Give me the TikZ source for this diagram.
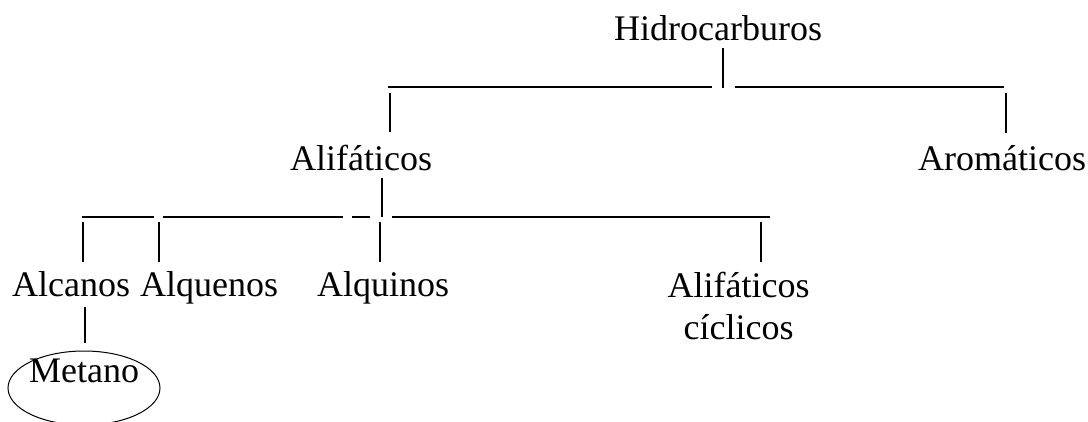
\documentclass[tikz,border=0pt]{standalone}
\usepackage{fontspec}
\setmainfont{Liberation Serif}
\begin{document}
\begin{tikzpicture}[x=1pt,y=-1pt,
  lbl/.style={anchor=base west,inner sep=0pt,font=\fontsize{36}{42}\selectfont},
  bar/.style={line width=1.5pt,draw=black}]
\useasboundingbox[fill=white] (0,0) rectangle (1088,421);
% texts
\node[lbl] (hid) at (614,40) {Hidrocarburos};
\node[lbl] (alif) at (290,170) {Alifáticos};
\node[lbl] (arom) at (918,170) {Aromáticos};
\node[lbl] (alca) at (12,296) {Alcanos};
\node[lbl] (alqe) at (140,296) {Alquenos};
\node[lbl] (alqi) at (317,296) {Alquinos};
\node[lbl,align=center,anchor=base] (cicl) at (738.5,339) {Alifáticos\\cíclicos};
\node[lbl] (met) at (29,382) {Metano};
\draw[line width=1pt] (84,388) ellipse [x radius=76, y radius=37];
% level 1 connectors
\coordinate (h1) at (723,48);
\coordinate (h2) at (723,88);
\draw[bar] (h1) -- (h2);
\draw[bar] (388,87) -- (712,87);
\draw[bar] (735,87) -- (1004,87);
\draw[bar] (390,93) -- (390,132);
\draw[bar] (1006,93) -- (1006,133);
% level 2 connectors
\draw[bar] (382,178) -- (382,217);
\draw[bar] (82,217) -- (154,217);
\draw[bar] (163,217) -- (343,217);
\draw[bar] (352,217) -- (370,217);
\draw[bar] (392,217) -- (770,217);
\draw[bar] (83,222) -- (83,262);
\draw[bar] (159,222) -- (159,262);
\draw[bar] (380,222) -- (380,262);
\draw[bar] (761,222) -- (761,262);
% level 3
\draw[bar] (85,307) -- (85,343);
\end{tikzpicture}
\end{document}
